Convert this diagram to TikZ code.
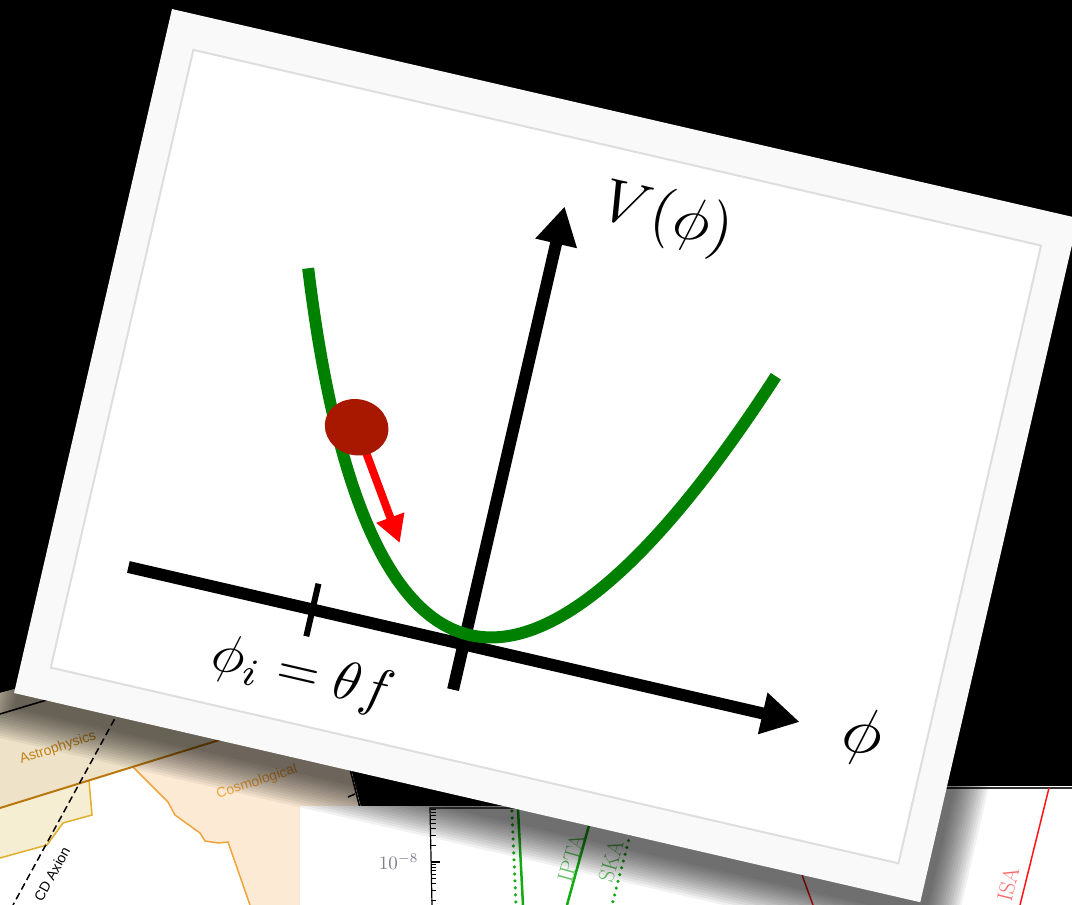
\documentclass[tikz,border=0pt]{standalone}
\usepackage{fontspec}
\usepackage{amssymb, amsmath}
\usetikzlibrary{arrows.meta, shapes.geometric}
\newfontfamily\plotsans{Liberation Sans}

\definecolor{potgreen}{RGB}{0,128,0}
\definecolor{ballred}{RGB}{168,24,0}
\definecolor{cardgray}{RGB}{249,249,249}
\definecolor{framegray}{RGB}{222,222,222}
\definecolor{astroline}{RGB}{185,120,15}
\definecolor{astrofill}{RGB}{238,226,200}
\definecolor{astrotext}{RGB}{190,130,25}
\definecolor{yelfill}{RGB}{246,238,210}
\definecolor{yelline}{RGB}{225,175,45}
\definecolor{cosmofill}{RGB}{252,234,212}
\definecolor{cosmoline}{RGB}{240,165,60}
\definecolor{ptagreen}{RGB}{20,170,20}
\definecolor{ptatext}{RGB}{95,190,95}
\definecolor{lisared}{RGB}{255,20,20}
\definecolor{lisatext}{RGB}{255,105,105}
\definecolor{ticklabel}{RGB}{125,125,140}

\tikzset{
  axis/.style={line width=12pt, -{Triangle[length=38pt,width=40pt]}},
  potential/.style={line width=12pt, potgreen},
  kick/.style={line width=8pt, red, -{Triangle[length=27pt,width=28pt]}},
  plotlabel/.style={font=\plotsans\fontsize{14}{14}\selectfont, inner sep=0pt},
  pulsarlabel/.style={font=\fontsize{22}{22}\selectfont, inner sep=0pt},
  plotline/.style={line width=1.5pt},
}

\begin{document}
\begin{tikzpicture}[x=1pt, y=1pt]
\useasboundingbox (0,0) rectangle (1072,-905);
\clip (0,0) rectangle (1072,-905);
\fill[black] (0,0) rectangle (1072,-905);

% card underneath, bottom left
\begin{scope}
\clip (0,-693) -- (310,-610) -- (386,-905) -- (0,-905) -- cycle;
\fill[white] (0,-600) rectangle (400,-905);
\fill[astrofill] (0,-808) -- (400,-684) -- (400,-600) -- (0,-600) -- cycle;
\fill[cosmofill] (133,-767) -- (168,-802) -- (175,-815) -- (200,-833) -- (205,-841)
  -- (218,-843) -- (228,-842) -- (250,-905) -- (400,-905) -- (400,-684) -- cycle;
\fill[yelfill] (0,-808) -- (89,-780.5) -- (92,-815) -- (63,-823) -- (47,-845) -- (0,-858) -- cycle;
\draw[plotline, yelline] (89,-780.5) -- (92,-815) -- (63,-823) -- (47,-845) -- (0,-858);
\draw[plotline, cosmoline] (133,-767) -- (168,-802) -- (175,-815) -- (200,-833) -- (205,-841)
  -- (218,-843) -- (228,-842) -- (250,-905);
\draw[line width=2pt, astroline] (0,-808) -- (400,-684);
\draw[plotline, dashed, dash pattern=on 7pt off 4pt] (125,-700) -- (13,-905);
\draw[plotline] (0,-714) -- (80,-690);
\draw[plotline] (309,-610) -- (385,-905);
\draw[plotline] (348,-797) -- (355,-794);
\node[plotlabel, text=astrotext, rotate=18] (astro) at (58,-748) {Astrophysics};
\node[plotlabel, text=cosmoline, rotate=18] (cosmo) at (257,-782) {Cosmological};
\node[plotlabel, rotate=61] (qcd) at (52,-874) {CD Axion};
\end{scope}

% card underneath, bottom middle
\fill[white] (300,-806) rectangle (1000,-905);
\draw[line width=1.2pt] (432,-905) -- (430,-808) -- (720,-808);
\draw[line width=1.2pt] (431,-862) -- ++(9,0);
\foreach \k in {2,...,9}{
  \draw[line width=1.1pt] (431,{-862+55*log10(\k)}) -- ++(5,0);
  \draw[line width=1.1pt] (431,{-917+55*log10(\k)}) -- ++(5,0);
}
\node[anchor=east, text=ticklabel, scale=1.9] (tenm8) at (425,-862) {$10^{-8}$};
\draw[ptagreen, line width=2.5pt] (517,-790) -- (523,-905);
\draw[ptagreen, line width=3.5pt, line cap=round, dash pattern=on 0pt off 7pt] (511,-790) -- (516,-905);
\draw[ptagreen, line width=2.5pt] (596,-800) -- (567,-905);
\draw[ptagreen, line width=3.5pt, line cap=round, dash pattern=on 0pt off 7pt] (639,-800) -- (612,-905);
\node[pulsarlabel, text=ptatext, rotate=74] (ipta) at (571,-858) {IPTA};
\node[pulsarlabel, text=ptatext, rotate=74] (ska) at (611,-861) {SKA};
\draw[plotline, lisared] (790,-842) -- (813,-905);

% card underneath, bottom right
\fill[white] (900,-786) rectangle (1072,-905);
\draw[plotline, black!80] (900,-788) -- (1072,-788);
\draw[plotline, lisared] (1049,-788) -- (1020,-905);
\node[pulsarlabel, text=lisatext, rotate=76] (lisa) at (1008,-884) {ISA};

% the card on top
\begin{scope}[shift={(172,-9)}, rotate=-13, transform shape]
\foreach \k in {1,...,14}
  \fill[black, fill opacity=0.055] ({6-2.5*\k},{-12+2.5*\k}) rectangle ({936+2.5*\k},{-714-2.5*\k});
\fill[cardgray] (0,0) rectangle (930,-702);
\filldraw[fill=white, draw=framegray, line width=2pt] (30,-35) rectangle (900,-669);

\coordinate (xstart) at (83,-553.5);
\coordinate (xend) at (772,-553.5);
\coordinate (ystart) at (427,-600);
\coordinate (yend) at (427,-104);
\coordinate (tickup) at (272,-527);
\coordinate (tickdown) at (272,-581);
\coordinate (leftend) at (191,-222);
\coordinate (rightend) at (671,-222);
\coordinate (ballc) at (274,-366);
\coordinate (push) at (342,-469);

\draw[axis] (xstart) -- (xend);
\draw[axis] (ystart) -- (yend);
\draw[line width=6pt] (tickup) -- (tickdown);
\draw[potential] (leftend) .. controls (346,-650) and (516,-650) .. (rightend);
\draw[kick] (ballc) -- (push);
\node[ellipse, fill=ballred, minimum width=64pt, minimum height=56pt, inner sep=0pt] (ball) at (ballc) {};

\node[scale=6.1] (vlabel) at (530,-93) {$V(\phi)$};
\node[scale=6.6] (philabel) at (836,-554) {$\phi$};
\node[scale=5.5] (phiilabel) at (277,-620) {$\phi_i=\theta f$};
\end{scope}
\end{tikzpicture}
\end{document}
